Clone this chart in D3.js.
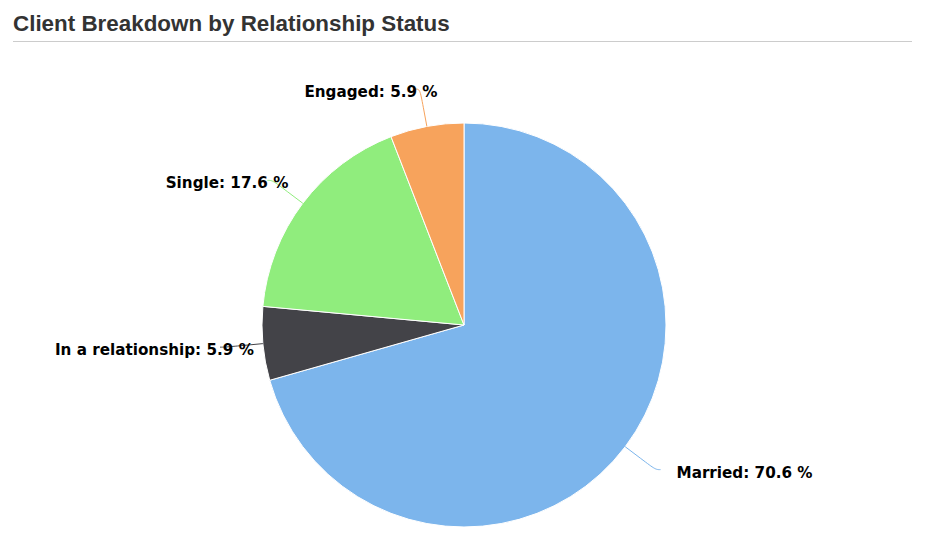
<!DOCTYPE html>
<html><head><meta charset="utf-8">
<script src="https://cdn.jsdelivr.net/npm/d3@7"></script>
<style>
html,body{margin:0;padding:0;background:#fff;}
</style></head>
<body>
<svg id="chart" width="925" height="546"></svg>
<script>
const categories = ["Married", "In a relationship", "Single", "Engaged"];
const values = [12, 1, 3, 1];
const colors = ["#7cb5ec", "#434348", "#90ed7d", "#f7a35c"];
const title = "Client Breakdown by Relationship Status";

const W = 925, H = 546;
const cx = 464, cy = 325, r = 202, labelDist = 38;
const svg = d3.select("#chart");

svg.append("text").attr("x", 13).attr("y", 31)
  .attr("font-family", "'Liberation Sans', Arial, sans-serif")
  .attr("font-weight", "bold").attr("font-size", 22.4).attr("fill", "#333")
  .text(title);
svg.append("line").attr("x1", 13).attr("x2", 912).attr("y1", 41.5).attr("y2", 41.5)
  .attr("stroke", "#ccc").attr("stroke-width", 1);

const total = d3.sum(values);
const data = categories.map((c, i) => ({name: c, value: values[i], color: colors[i]}));
const pie = d3.pie().value(d => d.value).sort(null);
const arcs = pie(data);
const arc = d3.arc().innerRadius(0).outerRadius(r);

const g = svg.append("g").attr("transform", `translate(${cx},${cy})`);
g.selectAll("path.slice").data(arcs).join("path")
  .attr("class", "slice")
  .attr("d", arc)
  .attr("fill", d => d.data.color)
  .attr("stroke", "#fff").attr("stroke-width", 1).attr("stroke-linejoin", "round");

const pt = (a, rad) => [Math.sin(a) * rad, -Math.cos(a) * rad];
const fmt = v => (Math.round(v / total * 1000) / 10).toFixed(1);

arcs.forEach(d => {
  const a = (d.startAngle + d.endAngle) / 2;
  const left = Math.sin(a) < 0;
  const E = pt(a, r), B = pt(a, r + labelDist / 2), N = pt(a, r + labelDist);
  const x = N[0], y = N[1];
  const sx = x + (left ? -5 : 5);
  const path = `M${sx},${y}C${x},${y} ${2*B[0]-E[0]},${2*B[1]-E[1]} ${B[0]},${B[1]}L${E[0]},${E[1]}`;
  g.append("path").attr("d", path).attr("fill", "none")
    .attr("stroke", d.data.color).attr("stroke-width", 1);
  const t = g.append("text")
    .attr("font-family", "'DejaVu Sans', Verdana, sans-serif")
    .attr("font-weight", "bold").attr("font-size", 15.2).attr("fill", "#000")
    .attr("y", y + 2.5).attr("dy", "0.36em")
    .text(`${d.data.name}: ${fmt(d.data.value)} %`);
  const w = t.node().getComputedTextLength();
  if (left) {
    t.attr("text-anchor", "end").attr("x", sx + 0.17 * w);
  } else {
    t.attr("text-anchor", "start").attr("x", sx + 16);
  }
});
</script>
</body></html>
